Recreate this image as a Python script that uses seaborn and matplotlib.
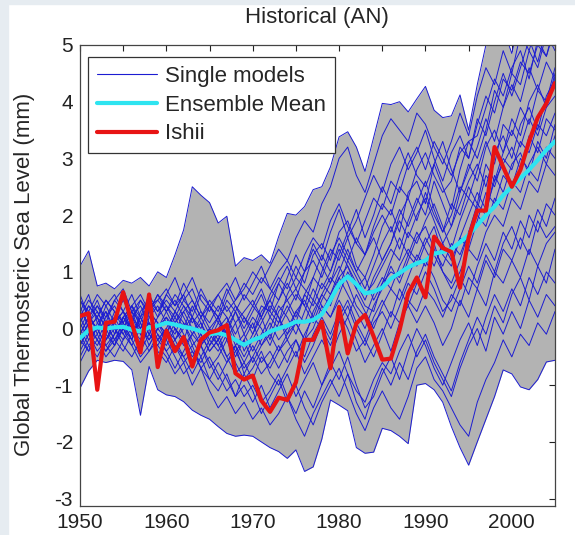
import numpy as np
import pandas as pd
import seaborn as sns
import matplotlib.pyplot as plt
from matplotlib.lines import Line2D
from matplotlib.patches import Rectangle

years = list(range(1950, 2006))

# Ishii observations
ishii = [0.22, 0.27, -1.08, 0.10, 0.12, 0.64, 0.10, -0.42, 0.60, -0.68,
         -0.04, -0.40, -0.15, -0.67, -0.20, -0.07, -0.03, 0.06, -0.79, -0.90,
         -0.83, -1.27, -1.47, -1.22, -1.26, -0.95, -0.20, -0.20, 0.12, -0.70,
         0.38, -0.44, 0.09, 0.24, -0.14, -0.55, -0.53, -0.03, 0.62, 0.90,
         0.55, 1.62, 1.42, 1.35, 0.72, 1.60, 2.08, 2.08, 3.20, 2.85,
         2.50, 2.80, 3.30, 3.72, 3.97, 4.33]

# ensemble mean
ens_mean = [-0.17, -0.03, 0.02, 0.00, 0.02, 0.03, -0.02, -0.05, 0.02, 0.05,
            0.10, 0.07, 0.03, 0.00, -0.05, -0.10, -0.08, -0.12, -0.20, -0.29,
            -0.20, -0.15, -0.05, 0.00, 0.05, 0.12, 0.12, 0.15, 0.25, 0.50,
            0.78, 0.92, 0.78, 0.62, 0.65, 0.72, 0.88, 0.98, 1.08, 1.15,
            1.20, 1.32, 1.35, 1.40, 1.52, 1.65, 1.82, 2.00, 2.15, 2.35,
            2.50, 2.65, 2.80, 2.97, 3.15, 3.30]

# model spread (max / min of the runs)
env_hi = [1.10, 1.37, 0.75, 0.80, 0.70, 0.85, 0.80, 0.90, 0.75, 1.00,
          0.90, 1.30, 1.74, 2.50, 2.35, 2.22, 1.86, 1.98, 1.10, 1.25,
          1.20, 1.30, 1.15, 1.62, 2.03, 2.00, 2.15, 2.45, 2.50, 2.85,
          3.38, 3.47, 3.20, 2.77, 3.37, 3.97, 3.95, 4.00, 3.82, 4.05,
          4.27, 3.85, 3.72, 3.75, 4.12, 3.50, 4.30, 5.00, 5.40, 5.30,
          4.85, 5.50, 5.40, 5.60, 5.50, 5.60]
env_lo = [-1.05, -0.75, -0.56, -0.60, -0.56, -0.58, -0.73, -1.53, -0.67, -1.08,
          -1.17, -1.20, -1.29, -1.44, -1.53, -1.60, -1.73, -1.85, -1.90, -1.88,
          -1.90, -2.00, -2.10, -2.17, -2.29, -2.14, -2.52, -2.44, -1.95, -1.26,
          -1.35, -1.45, -2.10, -2.20, -2.18, -1.76, -1.80, -1.90, -2.03, -1.00,
          -0.97, -1.08, -1.30, -1.73, -2.10, -2.41, -2.00, -1.60, -1.20, -0.73,
          -0.80, -1.03, -1.08, -0.90, -0.59, -0.56]

# single model runs
m01 = [0.3, 0.1, 0.4, 0.2, 0.5, 0.3, 0.6, 0.2, 0.4, 0.5,
       0.3, 0.6, 0.4, 0.1, 0.3, 0.0, 0.2, 0.4, 0.1, 0.3,
       0.5, 0.2, 0.6, 0.9, 0.7, 1.1, 0.8, 1.3, 1.5, 1.2,
       1.7, 1.9, 1.5, 1.3, 1.8, 2.2, 2.0, 2.5, 2.3, 2.8,
       3.1, 2.7, 2.4, 2.6, 3.2, 3.0, 3.6, 4.1, 3.8, 4.4,
       4.2, 4.7, 4.5, 5.0, 4.8, 5.3]
m02 = [0.0, 0.3, -0.1, 0.2, 0.4, 0.1, -0.2, 0.3, 0.5, 0.2,
       0.4, 0.2, 0.5, 0.7, 0.3, 0.1, 0.4, 0.2, -0.1, 0.2,
       0.0, 0.4, 0.3, 0.1, 0.6, 0.9, 0.7, 0.5, 1.0, 1.4,
       1.2, 1.6, 1.1, 0.9, 1.3, 1.8, 2.1, 1.7, 2.4, 2.6,
       2.2, 2.9, 2.5, 2.1, 2.8, 3.3, 3.0, 3.5, 4.2, 3.9,
       4.5, 4.3, 4.9, 4.6, 5.2, 4.9]
m03 = [-0.3, 0.0, 0.2, -0.2, 0.1, 0.3, 0.0, -0.4, 0.2, 0.4,
       0.1, -0.1, 0.3, 0.0, -0.3, -0.1, 0.2, -0.2, 0.1, -0.4,
       -0.1, 0.2, -0.2, 0.3, 0.5, 0.2, 0.6, 0.9, 0.7, 1.0,
       1.4, 1.1, 0.8, 0.5, 0.9, 1.2, 1.5, 1.9, 1.6, 2.0,
       2.3, 1.9, 1.5, 1.8, 2.2, 2.6, 2.9, 2.5, 3.1, 3.4,
       3.0, 3.6, 3.9, 3.5, 4.1, 4.4]
m04 = [0.5, 0.2, 0.0, 0.3, -0.1, 0.2, 0.4, 0.1, -0.2, 0.0,
       0.3, 0.5, 0.2, -0.1, 0.1, -0.3, 0.0, 0.2, -0.2, -0.5,
       -0.2, 0.1, 0.4, 0.2, -0.1, 0.3, 0.5, 0.2, 0.6, 0.9,
       0.7, 1.2, 0.9, 0.6, 0.8, 1.1, 1.4, 1.2, 1.7, 1.5,
       1.9, 2.2, 1.8, 1.4, 1.9, 2.3, 2.1, 2.7, 2.5, 3.0,
       2.8, 3.3, 3.1, 3.6, 3.4, 3.8]
m05 = [-0.2, -0.4, 0.1, 0.3, 0.0, -0.2, 0.2, 0.4, 0.1, -0.1,
       -0.3, 0.0, -0.2, 0.2, -0.1, -0.4, -0.2, 0.1, -0.3, -0.1,
       -0.4, -0.1, 0.2, 0.0, 0.3, 0.6, 0.4, 0.1, 0.5, 0.8,
       1.1, 0.8, 0.4, 0.2, 0.6, 0.9, 0.7, 1.1, 1.4, 1.2,
       1.6, 1.3, 1.0, 0.8, 1.2, 1.7, 2.0, 1.8, 2.3, 2.1,
       2.6, 2.4, 2.9, 3.2, 2.9, 3.4]
m06 = [0.1, 0.4, 0.2, -0.1, -0.3, 0.0, 0.3, 0.5, 0.2, 0.0,
       0.2, -0.2, 0.0, 0.4, 0.1, -0.2, -0.4, -0.1, -0.5, -0.2,
       0.1, -0.3, 0.0, 0.4, 0.2, -0.1, 0.3, 0.7, 0.4, 0.2,
       0.6, 1.0, 0.7, 0.4, 0.3, 0.8, 1.0, 0.9, 1.3, 1.7,
       1.4, 1.1, 1.5, 1.2, 1.6, 1.4, 1.9, 2.4, 2.2, 2.7,
       2.5, 3.0, 2.8, 2.6, 3.2, 3.0]
m07 = [-0.4, -0.1, -0.3, 0.0, 0.2, -0.1, -0.3, 0.0, -0.2, 0.1,
       -0.1, 0.2, -0.1, -0.4, -0.6, -0.3, -0.1, -0.5, -0.8, -0.6,
       -0.9, -0.5, -0.7, -0.4, -0.2, -0.5, -0.1, 0.2, 0.0, -0.3,
       0.1, 0.4, 0.0, -0.3, 0.1, 0.3, 0.0, 0.4, 0.8, 0.6,
       1.0, 0.7, 0.3, 0.5, 0.9, 0.6, 1.1, 1.5, 1.2, 1.7,
       1.4, 1.9, 1.6, 2.1, 1.8, 2.3]
m08 = [0.2, -0.1, -0.4, -0.2, 0.1, 0.3, -0.1, -0.3, 0.0, -0.4,
       -0.6, -0.3, -0.5, -0.8, -0.5, -0.9, -1.1, -0.8, -1.2, -1.0,
       -1.3, -1.0, -1.4, -1.1, -0.8, -1.2, -0.9, -0.6, -1.0, -0.7,
       -0.4, -0.8, -1.1, -1.3, -0.9, -0.6, -0.8, -0.4, -0.1, -0.5,
       -0.2, -0.6, -0.9, -1.2, -0.7, -0.3, 0.0, -0.4, 0.2, -0.1,
       0.3, 0.0, 0.5, 0.2, 0.6, 0.4]
m09 = [-0.1, 0.2, 0.5, 0.1, -0.2, 0.0, 0.3, -0.1, -0.4, -0.2,
       0.0, -0.3, -0.6, -0.4, -0.7, -0.5, -0.8, -1.1, -0.9, -1.2,
       -1.0, -1.3, -1.1, -0.8, -1.2, -1.5, -1.1, -1.4, -1.0, -0.6,
       -0.9, -0.5, -1.0, -1.4, -1.2, -0.8, -0.5, -0.9, -0.4, 0.0,
       -0.3, -0.7, -1.0, -0.6, -0.2, 0.1, -0.3, 0.2, 0.6, 0.3,
       0.7, 0.4, 0.9, 0.6, 1.0, 0.8]
m10 = [0.4, 0.0, 0.2, 0.5, 0.3, 0.0, -0.2, 0.2, 0.6, 0.3,
       0.5, 0.3, 0.0, 0.2, 0.6, 0.4, 0.1, 0.5, 0.3, 0.0,
       0.3, 0.6, 0.2, 0.5, 0.8, 0.5, 1.0, 1.2, 0.9, 1.3,
       1.6, 1.3, 1.0, 0.7, 1.1, 1.5, 1.8, 1.4, 1.9, 2.3,
       2.0, 2.6, 2.2, 1.8, 2.4, 2.9, 2.6, 3.2, 3.5, 3.1,
       3.7, 3.4, 4.0, 4.3, 3.9, 4.5]
m11 = [-0.5, -0.2, 0.0, -0.3, -0.1, 0.2, 0.0, -0.2, 0.3, 0.1,
       -0.2, 0.1, 0.4, 0.2, -0.2, 0.0, -0.3, 0.0, 0.3, -0.1,
       0.2, 0.0, -0.3, 0.1, 0.4, 0.1, -0.2, 0.3, 0.6, 0.4,
       0.9, 1.1, 0.7, 0.9, 0.5, 0.8, 1.2, 1.6, 1.3, 1.1,
       1.5, 1.8, 1.3, 1.1, 1.6, 2.0, 2.4, 2.1, 2.6, 2.9,
       3.2, 2.8, 3.4, 3.1, 3.7, 3.5]
m12 = [0.2, 0.5, 0.3, 0.0, 0.2, 0.5, 0.2, -0.1, 0.1, -0.2,
       0.0, 0.3, 0.1, -0.2, -0.5, -0.2, 0.1, -0.1, -0.4, -0.7,
       -0.5, -0.2, 0.1, -0.2, 0.0, 0.3, 0.1, 0.5, 0.3, 0.6,
       0.9, 0.6, 0.3, 0.0, 0.4, 0.7, 1.1, 0.8, 1.2, 1.6,
       1.8, 1.4, 1.1, 1.5, 1.3, 1.7, 2.2, 2.0, 2.7, 2.4,
       2.9, 3.1, 2.7, 3.3, 3.0, 3.6]
m13 = [-0.1, 0.2, 0.0, 0.4, 0.6, 0.3, 0.1, 0.5, 0.3, 0.6,
       0.4, 0.1, 0.3, 0.5, 0.2, 0.4, 0.6, 0.3, 0.5, 0.8,
       0.6, 0.9, 0.7, 1.0, 1.2, 0.9, 1.3, 1.6, 1.4, 1.9,
       2.2, 1.8, 1.5, 1.9, 2.3, 2.1, 2.6, 2.4, 2.9, 3.2,
       2.8, 3.3, 3.0, 2.7, 3.1, 3.3, 3.4, 3.9, 4.4, 4.1,
       4.6, 4.9, 4.4, 5.1, 4.8, 5.4]
m14 = [0.0, -0.3, -0.5, -0.2, 0.0, -0.3, -0.5, -0.2, 0.1, -0.2,
       -0.4, -0.7, -0.4, -0.1, -0.3, -0.6, -0.9, -0.6, -0.3, -0.8,
       -0.5, -0.8, -0.6, -0.3, -0.6, -0.2, -0.5, -0.1, 0.2, -0.1,
       0.3, 0.0, -0.4, -0.2, 0.2, 0.5, 0.2, 0.7, 0.4, 0.8,
       1.2, 0.9, 0.5, 0.3, 0.7, 1.1, 0.8, 1.3, 1.0, 1.5,
       1.8, 1.4, 2.0, 1.7, 2.2, 2.0]
m15 = [0.3, 0.6, 0.1, -0.1, 0.3, 0.1, 0.4, 0.2, -0.1, 0.2,
       0.6, 0.4, 0.8, 0.5, 0.2, 0.5, 0.3, 0.7, 0.4, 0.1,
       0.4, 0.2, 0.5, 0.8, 0.5, 0.7, 0.4, 0.9, 1.3, 1.0,
       1.5, 1.2, 1.6, 1.3, 1.7, 2.0, 1.7, 2.1, 1.8, 2.2,
       2.6, 2.1, 1.7, 2.0, 2.5, 2.3, 2.8, 3.3, 2.9, 3.6,
       3.4, 3.9, 3.6, 4.2, 4.0, 4.6]
m16 = [-0.2, 0.1, -0.2, -0.4, -0.1, 0.2, -0.1, 0.1, -0.3, 0.0,
       0.2, 0.0, -0.3, -0.1, 0.2, -0.1, -0.3, -0.6, -0.4, -0.2,
       -0.6, -0.3, -0.1, -0.4, -0.1, 0.1, -0.2, 0.0, 0.4, 0.2,
       0.5, 0.2, 0.6, 0.3, 0.0, 0.4, 0.7, 0.5, 0.9, 1.3,
       1.1, 1.5, 1.0, 0.7, 1.0, 1.4, 1.2, 1.7, 2.0, 1.8,
       2.3, 2.1, 2.6, 2.4, 2.9, 2.7]
m17 = [0.1, 0.4, 0.2, 0.5, 0.3, 0.1, 0.4, 0.6, 0.3, 0.5,
       0.7, 0.4, 0.6, 0.9, 0.5, 0.3, 0.6, 0.8, 0.5, 0.7,
       1.0, 0.8, 1.1, 1.4, 1.2, 1.6, 1.9, 1.7, 2.2, 2.5,
       3.0, 3.2, 2.7, 2.4, 2.9, 3.4, 3.7, 3.5, 3.3, 3.8,
       3.6, 3.2, 2.9, 3.3, 3.8, 3.4, 4.1, 4.6, 4.3, 4.9,
       4.5, 5.2, 4.9, 5.4, 5.2, 5.5]
m18 = [-0.2, 0.1, 0.3, 0.0, -0.3, 0.2, 0.4, 0.0, 0.3, 0.1,
       -0.1, 0.3, 0.6, 0.2, 0.0, 0.4, 0.2, -0.1, 0.3, 0.6,
       0.4, 0.7, 0.3, 0.8, 1.1, 0.7, 1.0, 1.5, 1.2, 1.7,
       2.1, 1.6, 1.9, 2.3, 2.7, 2.4, 2.9, 3.2, 2.8, 3.1,
       3.5, 3.0, 2.6, 3.1, 3.4, 3.0, 3.7, 3.4, 4.0, 4.5,
       4.1, 4.6, 5.1, 4.7, 5.3, 5.0]
m19 = [0.1, -0.2, 0.0, -0.3, -0.5, -0.2, 0.0, -0.4, -0.1, -0.3,
       -0.5, -0.8, -0.6, -1.0, -0.7, -1.1, -1.4, -1.2, -1.5, -1.3,
       -1.6, -1.4, -1.7, -1.5, -1.2, -1.6, -1.9, -1.5, -1.2, -0.9,
       -1.2, -0.8, -1.3, -1.6, -1.1, -0.7, -1.0, -0.6, -0.9, -0.4,
       -0.1, -0.5, -0.8, -1.1, -0.6, -0.2, 0.2, -0.1, 0.4, 0.1,
       0.6, 0.9, 0.5, 1.1, 0.8, 1.4]
m20 = [-0.3, 0.0, -0.2, -0.5, -0.3, 0.0, -0.3, -0.6, -0.4, -0.1,
       -0.4, -0.2, -0.5, -0.3, -0.7, -0.9, -0.6, -0.9, -1.2, -0.8,
       -1.1, -1.5, -1.2, -0.9, -1.3, -1.0, -1.4, -1.7, -1.3, -1.0,
       -0.7, -1.1, -1.5, -1.8, -1.4, -1.1, -1.4, -1.6, -1.2, -0.7,
       -0.5, -0.9, -1.1, -1.4, -1.7, -1.9, -1.3, -0.9, -0.6, -0.2,
       -0.5, -0.1, -0.3, 0.1, -0.1, 0.3]
m21 = [0.5, 0.3, 0.6, 0.4, 0.1, -0.1, 0.2, 0.0, 0.3, 0.6,
       0.3, 0.0, -0.2, -0.5, -0.3, 0.0, -0.2, 0.1, 0.4, 0.2,
       -0.1, 0.3, 0.5, 0.2, -0.2, 0.1, 0.6, 0.4, 0.8, 0.6,
       1.0, 1.4, 1.0, 1.3, 1.6, 1.2, 1.5, 2.0, 2.3, 1.9,
       2.4, 2.0, 1.7, 2.2, 2.0, 2.5, 2.2, 2.9, 2.6, 3.1,
       3.5, 3.2, 3.7, 3.4, 3.9, 4.1]
m22 = [-0.1, -0.4, -0.2, 0.1, -0.2, -0.4, -0.1, 0.2, -0.1, -0.3,
       0.0, -0.2, 0.1, -0.3, -0.1, -0.4, -0.2, -0.5, -0.3, -0.6,
       -0.3, -0.6, -0.4, -0.7, -0.4, -0.2, -0.6, -0.3, 0.1, -0.2,
       0.2, 0.5, 0.1, -0.2, -0.5, -0.1, 0.3, 0.1, 0.5, 0.3,
       0.7, 0.5, 0.2, 0.6, 0.4, 0.9, 0.7, 1.2, 0.9, 1.4,
       1.2, 1.6, 1.3, 1.9, 1.6, 1.8]
m23 = [0.6, 0.2, 0.4, 0.1, 0.5, 0.7, 0.3, 0.1, 0.5, 0.3,
       0.6, 0.9, 0.5, 0.3, 0.7, 0.4, 0.2, 0.6, 0.9, 0.5,
       0.8, 1.1, 0.7, 0.5, 0.9, 1.3, 1.0, 1.4, 1.1, 0.8,
       1.3, 1.7, 2.1, 1.6, 2.0, 2.5, 2.2, 2.7, 3.1, 2.7,
       2.5, 2.9, 3.3, 2.8, 2.4, 2.8, 3.2, 3.7, 3.3, 3.9,
       4.3, 4.0, 4.6, 4.2, 4.7, 4.4]
m24 = [-0.6, -0.3, -0.1, -0.4, -0.2, 0.1, -0.2, -0.5, -0.3, 0.0,
       -0.2, -0.5, -0.8, -0.6, -0.3, -0.7, -0.5, -0.2, -0.6, -0.9,
       -0.7, -0.4, -0.8, -1.0, -0.7, -0.4, -0.8, -0.5, -0.2, -0.5,
       -0.1, 0.2, -0.2, -0.6, -0.3, 0.0, -0.4, 0.1, 0.4, 0.1,
       0.4, 0.1, -0.3, 0.0, 0.5, 0.2, 0.7, 0.4, 1.0, 0.8,
       1.2, 0.9, 1.4, 1.1, 1.5, 1.7]

runs = [env_hi, env_lo, m01, m02, m03, m04, m05, m06, m07, m08, m09, m10,
        m11, m12, m13, m14, m15, m16, m17, m18, m19, m20, m21, m22, m23, m24]

df_runs = pd.DataFrame({
    'year': years * len(runs),
    'value': sum(runs, []),
    'model': np.repeat(np.arange(len(runs)), len(years)),
})
df_obs = pd.DataFrame({'year': years, 'ens': ens_mean, 'ishii': ishii})

sns.set_style('white')
plt.rcParams['font.family'] = ['Liberation Sans', 'DejaVu Sans']
plt.rcParams['axes.unicode_minus'] = False

W, H = 575, 535
fig = plt.figure(figsize=(W / 100, H / 100), dpi=100)
# light slide background at the left and top edge
fig.patches.append(Rectangle((0, 0), 8 / W, 1, transform=fig.transFigure,
                             color='#e6ecf1', zorder=0))
fig.patches.append(Rectangle((0, 1 - 4 / H), 1, 4 / H, transform=fig.transFigure,
                             color='#e6ecf1', zorder=0))

ax = fig.add_axes([80 / W, (H - 506) / H, 475 / W, 461 / H])

blue = '#1c1cd2'
ax.fill_between(years, env_lo, env_hi, color='#b3b3b3', lw=0, zorder=1)
sns.lineplot(data=df_runs, x='year', y='value', units='model', estimator=None,
             color=blue, lw=0.7, ax=ax, zorder=2)
sns.lineplot(data=df_obs, x='year', y='ens', color='#2ee4f0', lw=3.0, ax=ax, zorder=3)
sns.lineplot(data=df_obs, x='year', y='ishii', color='#e81414', lw=3.0, ax=ax, zorder=4)

ax.set_xlim(1950, 2005)
ax.set_ylim(-3.13, 5)
xt = list(range(1950, 2006, 5))
ax.set_xticks(xt)
ax.set_xticklabels([str(t) if t % 10 == 0 else '' for t in xt])
ax.set_yticks(range(-3, 6))
ax.tick_params(direction='in', top=True, right=True, length=4, width=0.8,
               labelsize=15, pad=5, colors='#222222')
for s in ax.spines.values():
    s.set_color('#444444')
    s.set_linewidth(0.9)
ax.set_xlabel('')
ax.set_ylabel('')

fig.text(25 / W, 1 - 274 / H, 'Global Thermosteric Sea Level (mm)', rotation=90,
         ha='center', va='center', fontsize=16)
fig.text(317 / W, 1 - 18 / H, 'Historical (AN)', ha='center', va='center', fontsize=16)

handles = [Line2D([], [], color=blue, lw=0.8),
           Line2D([], [], color='#2ee4f0', lw=3.0),
           Line2D([], [], color='#e81414', lw=3.0)]
leg = ax.legend(handles, ['Single models', 'Ensemble Mean', 'Ishii'],
                loc='upper left', bbox_to_anchor=(8 / 475, (506 - 57) / 461),
                borderaxespad=0, fontsize=16, frameon=True, fancybox=False,
                framealpha=1, edgecolor='#333333', handlelength=2.7,
                handletextpad=0.35, labelspacing=0.35, borderpad=0.4)
leg.get_frame().set_linewidth(0.9)

fig.savefig('out.png', dpi=100)
